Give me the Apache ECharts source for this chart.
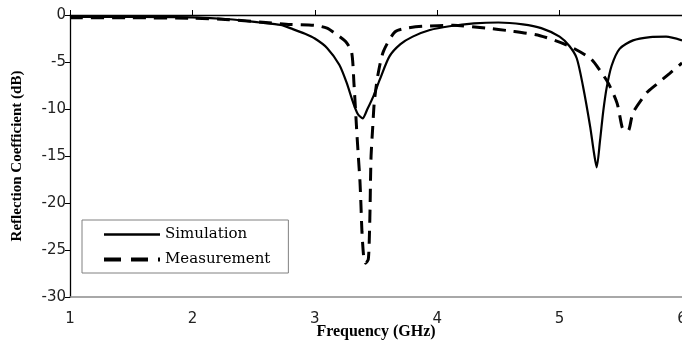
<!DOCTYPE html>
<html>
<head>
<meta charset="utf-8">
<script src="https://cdn.jsdelivr.net/npm/echarts@6/dist/echarts.min.js"></script>
<style>html,body{margin:0;padding:0;background:#fff}#c{width:682px;height:345px}</style>
</head>
<body>
<div id="c"></div>
<script>
var xTicks = [1, 2, 3, 4, 5, 6];
var yTicks = [0, -5, -10, -15, -20, -25, -30];

var simFreq = [1.0, 1.5, 2.0, 2.3, 2.55, 2.72, 2.82, 2.92, 3.0, 3.1, 3.2, 3.26, 3.31, 3.35, 3.39, 3.43, 3.48, 3.53, 3.61, 3.7, 3.8, 3.94, 4.1, 4.3, 4.5, 4.7, 4.85, 5.0, 5.08, 5.14, 5.19, 5.25, 5.28, 5.303, 5.33, 5.357, 5.385, 5.425, 5.49, 5.6, 5.74, 5.87, 6.0];
var simDb   = [-0.2, -0.2, -0.25, -0.45, -0.8, -1.05, -1.5, -2.0, -2.5, -3.5, -5.3, -7.2, -9.2, -10.5, -11.0, -10.0, -8.6, -6.9, -4.4, -3.1, -2.3, -1.6, -1.2, -0.9, -0.8, -1.0, -1.4, -2.3, -3.3, -4.6, -7.5, -11.9, -14.6, -16.2, -13.4, -10.2, -7.7, -5.4, -3.6, -2.7, -2.35, -2.3, -2.7];

var measFreq = [1.0, 1.5, 2.0, 2.3, 2.6, 2.8, 3.0, 3.1, 3.16, 3.25, 3.30, 3.32, 3.342, 3.355, 3.369, 3.377, 3.385, 3.40, 3.415, 3.437, 3.447, 3.452, 3.455, 3.46, 3.472, 3.486, 3.514, 3.56, 3.655, 3.75, 3.88, 4.13, 4.4, 4.6, 4.84, 5.06, 5.25, 5.33, 5.40, 5.47, 5.51, 5.53, 5.56, 5.60, 5.71, 5.79, 5.9, 6.0];
var measDb   = [-0.3, -0.3, -0.35, -0.5, -0.8, -1.0, -1.1, -1.4, -1.9, -2.8, -3.9, -7.3, -12.2, -14.9, -17.7, -20.2, -23.0, -25.8, -26.4, -26.0, -23.0, -20.2, -17.7, -14.9, -12.2, -9.3, -6.5, -3.9, -1.8, -1.4, -1.2, -1.1, -1.4, -1.7, -2.2, -3.2, -4.6, -5.9, -7.3, -9.4, -11.9, -12.3, -12.3, -10.4, -8.3, -7.4, -6.2, -5.1];

function pairs(xs, ys) { return xs.map(function (x, i) { return [x, ys[i]]; }); }

var hidden = { color: 'rgba(0,0,0,0)', borderColor: 'rgba(0,0,0,0)', borderWidth: 0, opacity: 0 };

var chart = echarts.init(document.getElementById('c'), null, { renderer: 'canvas' });
chart.setOption({
  animation: false,
  backgroundColor: '#ffffff',
  grid: { left: 70, right: 0, top: 15, bottom: 48, containLabel: false, outerBoundsMode: 'none' },
  xAxis: [{
    type: 'value', min: xTicks[0], max: xTicks[xTicks.length - 1], interval: 1,
    position: 'bottom',
    name: 'Frequency (GHz)', nameLocation: 'middle', nameGap: 27, nameMoveOverlap: false,
    nameTextStyle: { fontFamily: 'Liberation Serif', fontWeight: 'bold', fontSize: 16, color: '#000' },
    axisLine: { onZero: false, show: true, lineStyle: { color: '#8c8c8c', width: 1.5 } },
    axisTick: { show: false },
    axisLabel: { fontFamily: 'DejaVu Sans', fontSize: 15, color: '#222', margin: 15 },
    splitLine: { show: false }
  }, {
    type: 'value', min: xTicks[0], max: xTicks[xTicks.length - 1], interval: 1,
    position: 'top',
    axisLine: { onZero: false, show: true, lineStyle: { color: '#000', width: 1.3 } },
    axisTick: { show: true, inside: false, length: 5, lineStyle: { color: '#000' } },
    axisLabel: { show: false },
    splitLine: { show: false }
  }],
  yAxis: {
    type: 'value', min: yTicks[yTicks.length - 1], max: yTicks[0], interval: 5,
    name: 'Reflection Coefficient (dB)', nameLocation: 'middle', nameGap: 45, nameMoveOverlap: false,
    nameTextStyle: { fontFamily: 'Liberation Serif', fontWeight: 'bold', fontSize: 15, color: '#000' },
    axisLine: { show: true, lineStyle: { color: '#000', width: 1.3 } },
    axisTick: { show: true, length: 5, lineStyle: { color: '#000' } },
    axisLabel: { fontFamily: 'DejaVu Sans', fontSize: 15, color: '#222', margin: 4 },
    splitLine: { show: false }
  },
  legend: {
    show: true, orient: 'vertical', left: 82, top: 220,
    backgroundColor: '#fff', borderColor: '#808080', borderWidth: 1,
    padding: [7, 18, 6, 20], itemGap: 10, itemWidth: 56, itemHeight: 17,
    textStyle: { fontFamily: 'DejaVu Serif', fontSize: 15, color: '#000' },
    itemStyle: hidden,
    data: [
      { name: 'Simulation', itemStyle: hidden, lineStyle: { width: 2.5, type: 'solid', color: '#000' } },
      { name: 'Measurement', itemStyle: hidden, lineStyle: { width: 4, type: [17, 10], color: '#000' } }
    ]
  },
  series: [{
    name: 'Simulation', type: 'line', xAxisIndex: 0,
    data: pairs(simFreq, simDb), showSymbol: false, symbol: 'none', smooth: 0.25,
    lineStyle: { color: '#000', width: 2.2, type: 'solid' }, itemStyle: { color: '#000' }
  }, {
    name: 'Measurement', type: 'line', xAxisIndex: 0,
    data: pairs(measFreq, measDb), showSymbol: false, symbol: 'none', smooth: 0.25,
    lineStyle: { color: '#000', width: 3, type: [13, 8] }, itemStyle: { color: '#000' }
  }]
});
</script>
</body>
</html>
